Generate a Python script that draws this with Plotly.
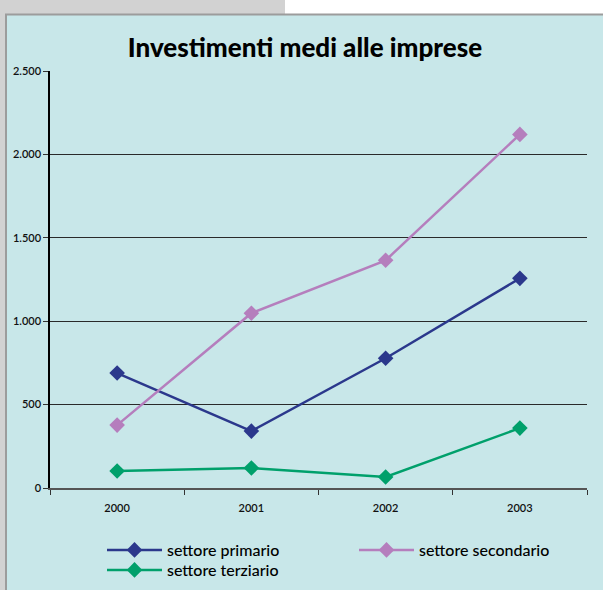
import plotly.graph_objects as go

years = ["2000", "2001", "2002", "2003"]
primario = [689, 341, 778, 1257]
secondario = [377, 1048, 1365, 2120]
terziario = [102, 120, 66, 359]

W, H = 603, 590
ML, MR, MT, MB = 50, 16, 71, 102
PW = W - ML - MR
PH = H - MT - MB

def px_x(x):
    return (x - ML) / PW

def px_y(y):
    return (H - MB - y) / PH

FONT = "Lato, Roboto, sans-serif"
BG = "#C8E7E9"

fig = go.Figure()
series = [
    ("settore primario", primario, "#2B388C", "legend"),
    ("settore secondario", secondario, "#B57EBD", "legend2"),
    ("settore terziario", terziario, "#00A06B", "legend3"),
]
for name, vals, col, leg in series:
    fig.add_trace(go.Scatter(
        x=years, y=vals, name=name, mode="lines+markers",
        line=dict(color=col, width=2.5),
        marker=dict(symbol="diamond", size=12, color=col),
        legend=leg,
    ))

shapes = []
def rect(x0, y0, x1, y1, color):
    shapes.append(dict(type="rect", xref="paper", yref="paper",
                       x0=px_x(x0), x1=px_x(x1), y0=px_y(y1), y1=px_y(y0),
                       fillcolor=color, line=dict(width=0), layer="below"))

rect(0, 0, 5, H, "#D2D2D2")
rect(5, 14, 7, H, "#9C9C9C")
rect(0, 0, 285, 14, "#D2D2D2")
rect(285, 0, W, 14, "#FFFFFF")
rect(5, 13.5, W, 15.5, "#9C9C9C")

legfont = dict(family=FONT, size=16, color="#000", weight=500)
legcommon = dict(orientation="v", xref="container", yref="container",
                 xanchor="left", yanchor="top", itemwidth=55,
                 font=legfont, bgcolor="rgba(0,0,0,0)", tracegroupgap=0)

fig.update_layout(
    width=W, height=H,
    margin=dict(l=ML, r=MR, t=MT, b=MB, autoexpand=False),
    paper_bgcolor=BG, plot_bgcolor=BG,
    separators=",.",
    font=dict(family=FONT, color="#111"),
    title=dict(text="Investimenti medi alle imprese",
               font=dict(family=FONT, size=26, color="#000", weight=900),
               x=305 / W, xanchor="center", xref="container",
               y=1 - 48 / H, yanchor="middle", yref="container"),
    showlegend=True,
    legend=dict(x=102 / W, y=1 - 533 / H, **legcommon),
    legend2=dict(x=354 / W, y=1 - 533 / H, **legcommon),
    legend3=dict(x=102 / W, y=1 - 553 / H, **legcommon),
    shapes=shapes,
    xaxis=dict(type="category", tickson="boundaries", ticks="outside",
               ticklen=5, tickcolor="#333", showgrid=False,
               showline=True, linecolor="#555", linewidth=2,
               ticklabelstandoff=9,
               tickfont=dict(family=FONT, size=11, color="#111", weight=600),
               range=[-0.5, 3.5]),
    yaxis=dict(range=[0, 2500], tickvals=[0, 500, 1000, 1500, 2000, 2500],
               tickformat=",d", ticks="outside", ticklen=5, tickcolor="#333",
               showline=True, linecolor="#000", linewidth=1.5,
               showgrid=True, gridcolor="#2A2A2A", gridwidth=1,
               zeroline=False,
               tickfont=dict(family=FONT, size=11, color="#111", weight=600)),
)

fig.write_html("out.html", config={"displayModeBar": False},
               post_script="document.body.style.margin='0px';")
